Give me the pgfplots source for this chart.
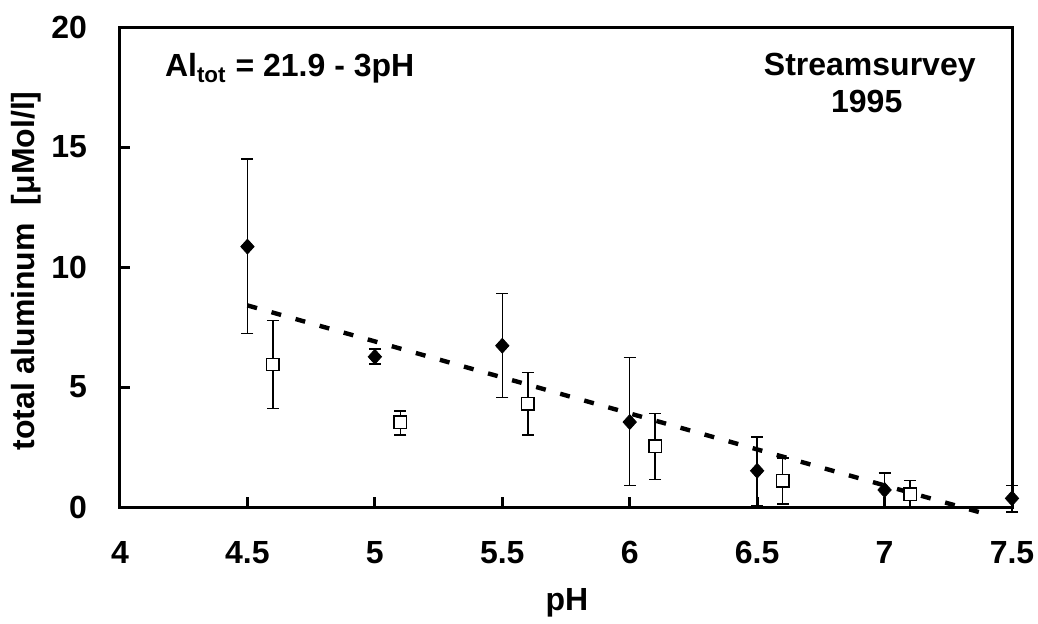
\documentclass[border=0pt]{standalone}
\usepackage{fontspec}
\setmainfont{Liberation Sans}
\usepackage{pgfplots}
\usepackage{pgfplotstable}
\pgfplotsset{compat=1.18}

% stream survey 1995: mean total Al per pH class, with error bars
\pgfplotstableread{
x    y     ep    em
4.5  10.85 3.64  3.63
5.0  6.26  0.32  0.30
5.5  6.72  2.18  2.15
6.0  3.54  2.68  2.65
6.5  1.51  1.41  1.47
7.0  0.71  0.71  0.71
7.5  0.36  0.53  0.56
}\diamonds

\pgfplotstableread{
x    y     ep    em
4.6  5.94  1.84  1.84
5.1  3.53  0.48  0.53
5.6  4.30  1.30  1.29
6.1  2.53  1.36  1.39
6.6  1.10  0.94  0.98
7.1  0.53  0.58  0.53
}\squares

\pgfplotstableread{
x    y
4.5  8.4
7.4  -0.3
}\fitline

\begin{document}
\begin{tikzpicture}
\useasboundingbox (-60pt,-58pt) rectangle (459pt,253.5pt);
\begin{axis}[
    scale only axis,
    width=446pt, height=240pt,
    xmin=4, xmax=7.5, ymin=0, ymax=20,
    xtick={4,4.5,...,7.5}, ytick={0,5,...,20},
    tick pos=left, tick align=inside,
    major tick length=5pt,
    every tick/.style={line width=1.5pt, black},
    axis line style={line width=1.5pt},
    clip=false,
    /pgf/number format/assume math mode=true,
    tick label style={font=\fontsize{16}{19}\selectfont\bfseries},
    xticklabel style={yshift=-13.5pt},
    yticklabel style={xshift=-13pt},
    error bars/error bar style={line width=0.75pt, black},
    error bars/error mark options={rotate=90, line width=0.75pt, mark size=3pt, black},
]
\addplot[black, line width=2.2pt, dash pattern=on 5pt off 7.5pt] table[x=x, y=y] {\fitline};

\addplot[only marks, mark=diamond*, mark size=3.7pt,
    mark options={fill=black, draw=black, xscale=1.2},
    error bars/.cd, y dir=both, y explicit]
    table[x=x, y=y, y error plus=ep, y error minus=em] {\diamonds};

\addplot[only marks, mark=square*, mark size=3.1pt,
    mark options={fill=white, draw=black, line width=0.7pt},
    error bars/.cd, y dir=both, y explicit]
    table[x=x, y=y, y error plus=ep, y error minus=em] {\squares};

\node[anchor=base west, font=\fontsize{16}{19}\selectfont\bfseries]
    at (axis cs:4.149,17.92) {Al\textsubscript{tot} = 21.9 - 3pH};
\node[anchor=base, font=\fontsize{16}{19}\selectfont\bfseries]
    at (axis cs:6.942,17.96) {Streamsurvey};
\node[anchor=base, font=\fontsize{16}{19}\selectfont\bfseries]
    at (axis cs:6.93,16.42) {1995};
\end{axis}
\node[rotate=90, font=\fontsize{16}{19}\selectfont\bfseries]
    at (-47pt,118pt) {total aluminum\ \ [μMol/l]};
\node[font=\fontsize{16}{19}\selectfont\bfseries] at (223.5pt,-48pt) {pH};
\end{tikzpicture}
\end{document}
